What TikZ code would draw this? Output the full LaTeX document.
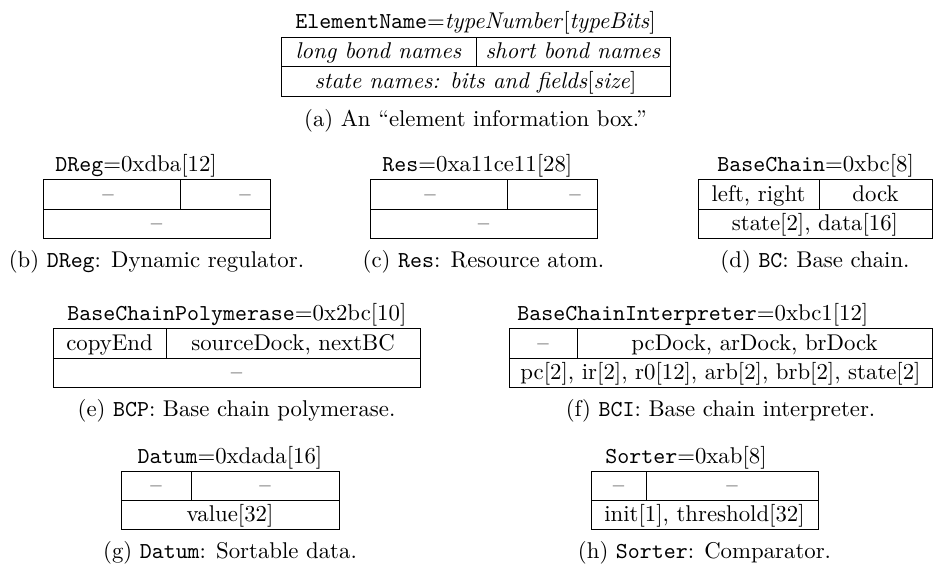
\documentclass[tikz,border=0pt]{standalone}
\usepackage{tikz}
\usetikzlibrary{positioning}

\begin{document}
\begin{tikzpicture}[x=0.4386pt,y=-0.4386pt,
    cell/.style={anchor=base,inner sep=0pt},
    title/.style={anchor=base west,inner sep=0pt},
    subcap/.style={anchor=base,inner sep=0pt}]
    \useasboundingbox (0,0) rectangle (933,573);
    % Element information box
    \node[title] (elemT) at (295,28) {\texttt{ElementName}=\textit{typeNumber}[\textit{typeBits}]};
    \draw (281,37) rectangle (670,96);
    \draw (281,66) -- (670,66);
    \draw (476,37) -- (476,66);
    \node[cell] (elemL) at (378.5,58) {\textit{long bond names}};
    \node[cell] (elemR) at (573,58) {\textit{short bond names}};
    \node[cell] (elemS) at (475.5,88) {\textit{state names: bits and fields}[\textit{size}]};
    \node[subcap] (capA) at (475.5,126) {(a) An “element information box.”};
    % DReg
    \node[title] (dregT) at (55,171) {\texttt{DReg}=0xdba[12]};
    \draw (43,179) rectangle (270,238);
    \draw (43,209) -- (270,209);
    \draw (180,179) -- (180,209);
    \node[cell] (dregL) at (108,201) {--};
    \node[cell] (dregR) at (245,201) {--};
    \node[cell] (dregS) at (156.5,230) {--};
    \node[subcap] (capB) at (156.5,267) {(b) \texttt{DReg}: Dynamic regulator.};
    % Res
    \node[title] (resT) at (382,171) {\texttt{Res}=0xa11ce11[28]};
    \draw (370,179) rectangle (597,238);
    \draw (370,209) -- (597,209);
    \draw (507,179) -- (507,209);
    \node[cell] (resL) at (430,201) {--};
    \node[cell] (resR) at (575,201) {--};
    \node[cell] (resS) at (483.5,230) {--};
    \node[subcap] (capC) at (483.5,267) {(c) \texttt{Res}: Resource atom.};
    % BaseChain
    \node[title] (bcT) at (717,171) {\texttt{BaseChain}=0xbc[8]};
    \draw (698,179) rectangle (932,238);
    \draw (698,209) -- (932,209);
    \draw (819,179) -- (819,209);
    \node[cell] (bcL) at (758.5,201) {left, right};
    \node[cell] (bcR) at (875.5,201) {dock};
    \node[cell] (bcS) at (815,230) {state[2], data[16]};
    \node[subcap] (capD) at (815,267) {(d) \texttt{BC}: Base chain.};
    % BaseChainPolymerase
    \node[title] (bcpT) at (67,320) {\texttt{BaseChainPolymerase}=0x2bc[10]};
    \draw (53,328) rectangle (420,387);
    \draw (53,358) -- (420,358);
    \draw (166,328) -- (166,358);
    \node[cell] (bcpL) at (109.5,350) {copyEnd};
    \node[cell] (bcpR) at (293,350) {sourceDock, nextBC};
    \node[cell] (bcpS) at (236.5,379) {--};
    \node[subcap] (capE) at (236.5,416) {(e) \texttt{BCP}: Base chain polymerase.};
    % BaseChainInterpreter
    \node[title] (bciT) at (517,320) {\texttt{BaseChainInterpreter}=0xbc1[12]};
    \draw (509,328) rectangle (932,387);
    \draw (509,358) -- (932,358);
    \draw (577,328) -- (577,358);
    \node[cell] (bciL) at (543,350) {--};
    \node[cell] (bciR) at (754.5,350) {pcDock, arDock, brDock};
    \node[cell] (bciS) at (720.5,379) {pc[2], ir[2], r0[12], arb[2], brb[2], state[2]};
    \node[subcap] (capF) at (720.5,416) {(f) \texttt{BCI}: Base chain interpreter.};
    % Datum
    \node[cell] (datT) at (230,463) {\texttt{Datum}=0xdada[16]};
    \draw (121,471) rectangle (339,529);
    \draw (121,500) -- (339,500);
    \draw (191,471) -- (191,500);
    \node[cell] (datL) at (156,492) {--};
    \node[cell] (datR) at (265,492) {--};
    \node[cell] (datS) at (230,521) {value[32]};
    \node[subcap] (capG) at (230,558) {(g) \texttt{Datum}: Sortable data.};
    % Sorter
    \node[title] (sortT) at (605,463) {\texttt{Sorter}=0xab[8]};
    \draw (591,471) rectangle (818,529);
    \draw (591,500) -- (818,500);
    \draw (646,471) -- (646,500);
    \node[cell] (sortL) at (618.5,492) {--};
    \node[cell] (sortR) at (732,492) {--};
    \node[cell] (sortS) at (704.5,521) {init[1], threshold[32]};
    \node[subcap] (capH) at (704.5,558) {(h) \texttt{Sorter}: Comparator.};
\end{tikzpicture}
\end{document}
